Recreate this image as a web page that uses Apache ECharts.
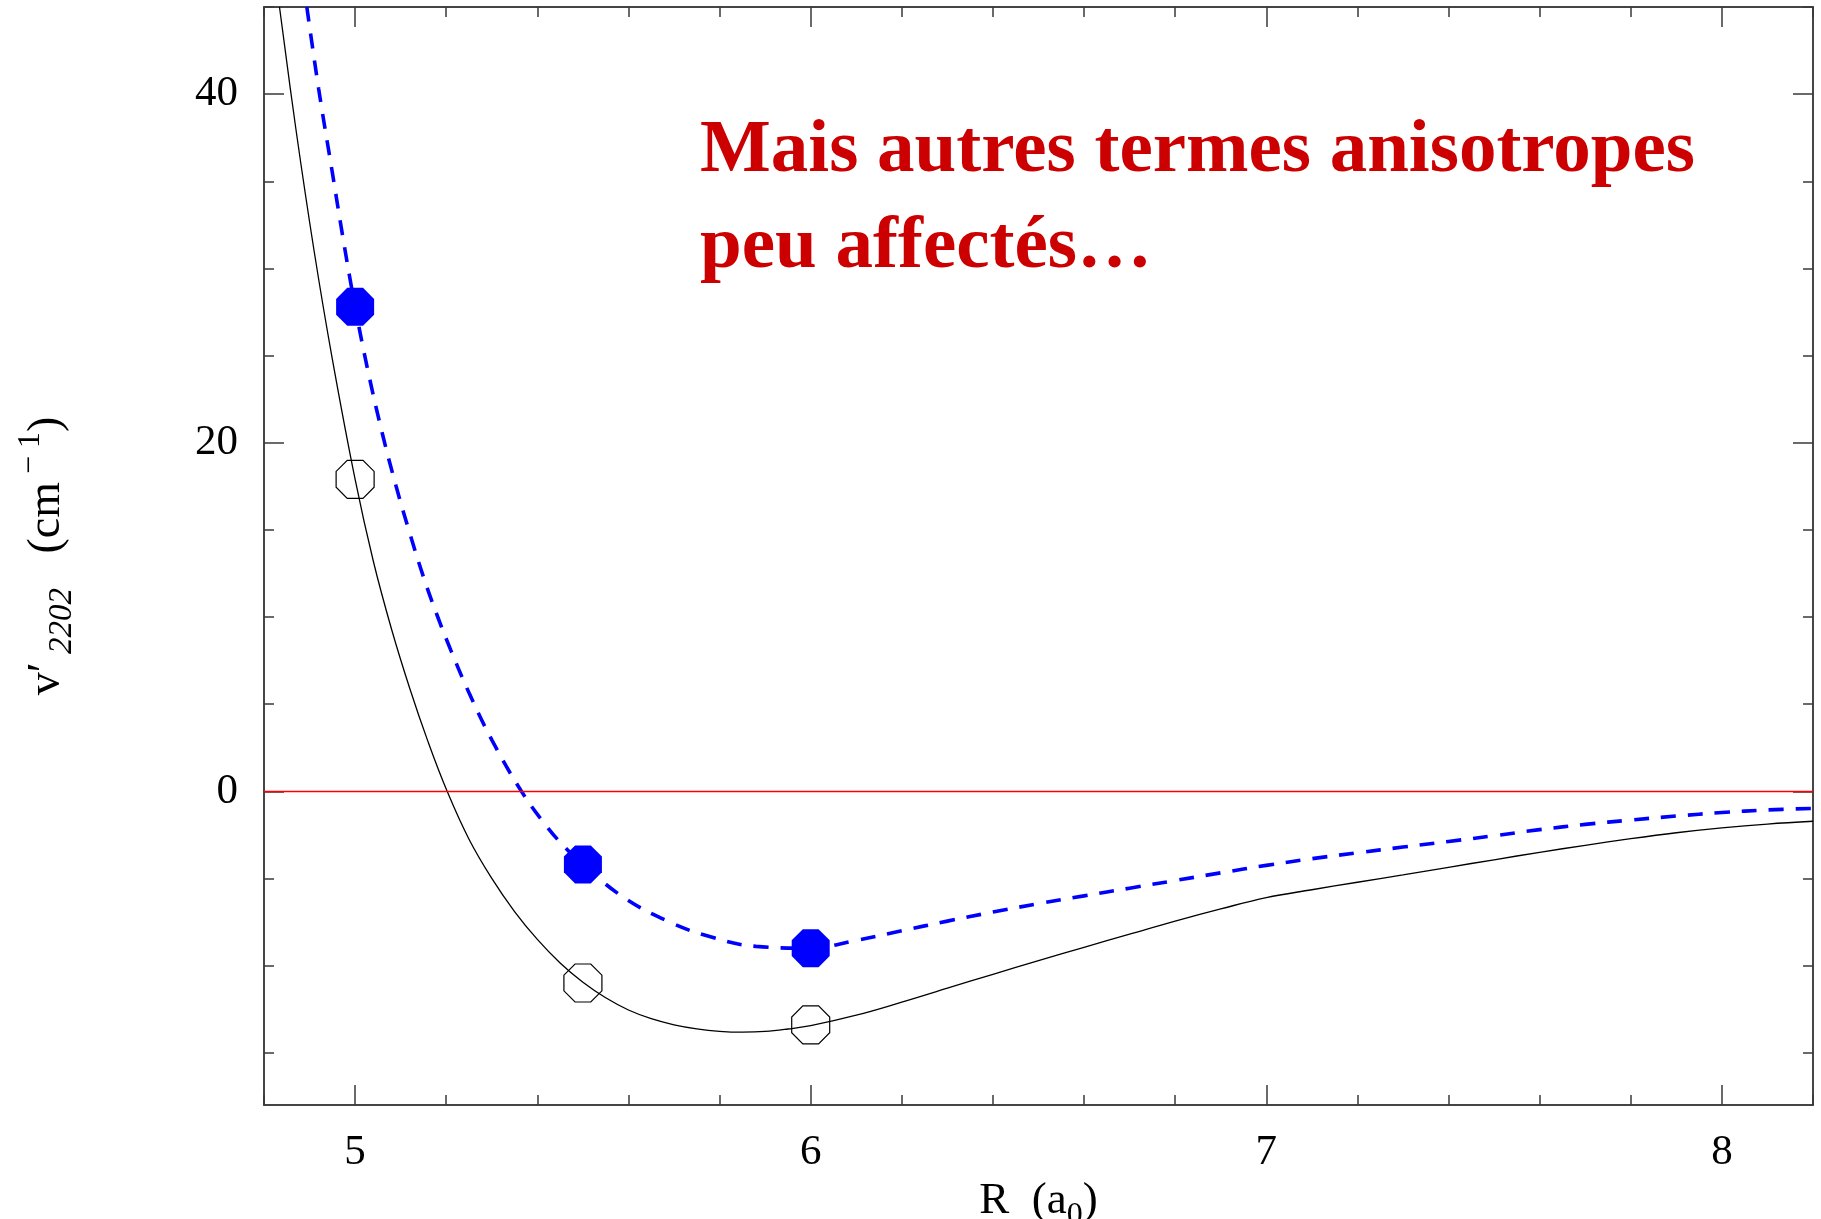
<!DOCTYPE html>
<html>
<head>
<meta charset="utf-8">
<title>V'2202 (R)</title>
<script src="https://cdn.jsdelivr.net/npm/echarts@6/dist/echarts.min.js"></script>
<style>
  html, body { margin: 0; padding: 0; background: #fff; }
  #chart { width: 1821px; height: 1219px; }
</style>
</head>
<body>
<div id="chart"></div>
<script>
// Solid black curve: R (a0) and V'2202 (cm-1)
const blackCurveR = [4.834, 4.87, 4.91, 4.95, 5.0, 5.04, 5.08, 5.12, 5.16, 5.202, 5.25, 5.3, 5.35, 5.4, 5.45, 5.5, 5.55, 5.6, 5.65, 5.7, 5.75, 5.8, 5.85, 5.9, 5.95, 6.0, 6.1, 6.2, 6.3, 6.4, 6.5, 6.6, 6.7, 6.8, 6.9, 7.0, 7.1, 7.2, 7.3, 7.4, 7.5, 7.6, 7.7, 7.8, 7.9, 8.0, 8.1, 8.2];
const blackCurveV = [45, 38.0, 31.0, 24.8, 17.9, 13.2, 9.3, 5.9, 2.85, 0, -2.75, -5.0, -6.9, -8.5, -9.85, -10.96, -11.85, -12.55, -13.05, -13.4, -13.63, -13.77, -13.82, -13.78, -13.64, -13.45, -12.85, -12.1, -11.3, -10.5, -9.72, -8.95, -8.2, -7.45, -6.75, -6.1, -5.65, -5.22, -4.8, -4.36, -3.93, -3.5, -3.1, -2.72, -2.38, -2.1, -1.88, -1.72];

// Dashed blue curve
const blueCurveR = [4.894, 4.92, 4.95, 4.975, 5.0, 5.03, 5.06, 5.09, 5.12, 5.15, 5.18, 5.21, 5.25, 5.3, 5.365, 5.42, 5.46, 5.5, 5.59, 5.69, 5.78, 5.88, 6.0, 6.1, 6.2, 6.3, 6.4, 6.5, 6.6, 6.7, 6.8, 6.9, 7.0, 7.1, 7.2, 7.3, 7.4, 7.5, 7.6, 7.7, 7.8, 7.9, 8.0, 8.1, 8.2];
const blueCurveV = [45, 40.3, 35.5, 31.5, 27.8, 23.9, 20.5, 17.5, 14.8, 12.3, 10.1, 8.1, 5.65, 2.95, 0, -2.0, -3.2, -4.2, -6.1, -7.5, -8.35, -8.9, -9.0, -8.55, -8.0, -7.45, -6.93, -6.45, -6.0, -5.56, -5.12, -4.68, -4.25, -3.87, -3.53, -3.2, -2.88, -2.55, -2.2, -1.9, -1.65, -1.42, -1.22, -1.07, -0.98];

// Computed points
const pointR = [5.0, 5.5, 6.0];
const bluePointV = [27.8, -4.2, -9.0];
const blackPointV = [17.9, -11.0, -13.4];

// Axis ticks
const xMajorTicks = [5, 6, 7, 8];
const xMinorTicks = [4.8, 5.0, 5.2, 5.4, 5.6, 5.8, 6.0, 6.2, 6.4, 6.6, 6.8, 7.0, 7.2, 7.4, 7.6, 7.8, 8.0, 8.2];
const yMajorTicks = [0, 20, 40];
const yMinorTicks = [-15, -10, -5, 0, 5, 10, 15, 20, 25, 30, 35, 40, 45];

const xRange = [4.8, 8.2];
const yRange = [-18, 45];

const annotation = 'Mais autres termes anisotropes\npeu affectés…';

const zip = (a, b) => a.map((v, i) => [v, b[i]]);

const FRAME = '#3a3a3a';
const SERIF = "'Liberation Serif', 'DejaVu Serif', serif";
const OCTAGON = 'path://M29.29,0 L70.71,0 L100,29.29 L100,70.71 L70.71,100 L29.29,100 L0,70.71 L0,29.29 Z';

function axisX(pos, major, labels) {
  return {
    type: 'value', position: pos, min: xRange[0], max: xRange[1],
    axisLine: { show: true, onZero: false, lineStyle: { color: FRAME, width: 1.5 } },
    axisTick: { show: true, inside: true, length: major ? 20 : 10,
      customValues: major ? xMajorTicks : xMinorTicks,
      lineStyle: { color: FRAME, width: 1.5 } },
    axisLabel: labels
      ? { show: true, customValues: xMajorTicks, margin: 26, color: '#000', fontFamily: SERIF, fontSize: 43 }
      : { show: false },
    splitLine: { show: false }
  };
}

function axisY(pos, major, labels) {
  return {
    type: 'value', position: pos, min: yRange[0], max: yRange[1],
    axisLine: { show: true, onZero: false, lineStyle: { color: FRAME, width: 1.5 } },
    axisTick: { show: true, inside: true, length: major ? 20 : 10,
      customValues: major ? yMajorTicks : yMinorTicks,
      lineStyle: { color: FRAME, width: 1.5 } },
    axisLabel: labels
      ? { show: true, customValues: yMajorTicks, margin: 26, color: '#000', fontFamily: SERIF, fontSize: 43 }
      : { show: false },
    splitLine: { show: false }
  };
}

const xBottom = axisX('bottom', true, true);
xBottom.name = '{t|R  (a}{s|0}{t|)}';
xBottom.nameLocation = 'middle';
xBottom.nameGap = 58;
xBottom.nameTextStyle = {
  rich: {
    t: { fontFamily: SERIF, fontSize: 45, color: '#000', lineHeight: 60 },
    s: { fontFamily: SERIF, fontSize: 32, color: '#000', lineHeight: 40, verticalAlign: 'bottom' }
  }
};

const yLeft = axisY('left', true, true);
yLeft.name = "{t|v′}{s| 2202}{t|   (cm}{p| − 1}{t|)}";
yLeft.nameLocation = 'middle';
yLeft.nameGap = 185;
yLeft.nameTextStyle = {
  rich: {
    t: { fontFamily: SERIF, fontSize: 46, color: '#000', lineHeight: 64 },
    s: { fontFamily: SERIF, fontSize: 33, fontStyle: 'italic', color: '#000', lineHeight: 50, verticalAlign: 'bottom' },
    p: { fontFamily: SERIF, fontSize: 32, color: '#000', lineHeight: 20, verticalAlign: 'top' }
  }
};

const chart = echarts.init(document.getElementById('chart'), null, { renderer: 'canvas' });

chart.setOption({
  backgroundColor: '#fff',
  animation: false,
  title: {
    text: annotation,
    left: 700,
    top: 104,
    padding: 0,
    textStyle: {
      fontFamily: SERIF,
      fontWeight: 'bold',
      fontSize: 75,
      lineHeight: 96,
      color: '#cc0000',
      textShadowColor: '#a8a8a8',
      textShadowBlur: 0,
      textShadowOffsetX: 3,
      textShadowOffsetY: 3
    }
  },
  grid: { left: 264, right: 8, top: 7, bottom: 114, containLabel: false, outerBoundsMode: 'none' },
  xAxis: [xBottom, axisX('bottom', false, false), axisX('top', true, false), axisX('top', false, false)],
  yAxis: [yLeft, axisY('left', false, false), axisY('right', true, false), axisY('right', false, false)],
  series: [
    {
      type: 'line',
      data: zip(blackCurveR, blackCurveV),
      xAxisIndex: 0, yAxisIndex: 0,
      showSymbol: false,
      smooth: 0.4,
      clip: true,
      lineStyle: { color: '#000', width: 1.3 },
      markLine: {
        silent: true,
        symbol: 'none',
        label: { show: false },
        lineStyle: { color: '#ff0000', width: 1.3, type: 'solid' },
        data: [{ yAxis: 0 }]
      },
      z: 3
    },
    {
      type: 'line',
      data: zip(blueCurveR, blueCurveV),
      xAxisIndex: 0, yAxisIndex: 0,
      showSymbol: false,
      smooth: 0.4,
      clip: true,
      lineStyle: { color: '#0000ff', width: 3.6, type: [15, 12], cap: 'butt' },
      z: 4
    },
    {
      type: 'scatter',
      data: zip(pointR, blackPointV),
      xAxisIndex: 0, yAxisIndex: 0,
      symbol: OCTAGON,
      symbolSize: 38,
      itemStyle: { color: 'rgba(0,0,0,0)', borderColor: '#000', borderWidth: 1.2, opacity: 1 },
      z: 5
    },
    {
      type: 'scatter',
      data: zip(pointR, bluePointV),
      xAxisIndex: 0, yAxisIndex: 0,
      symbol: OCTAGON,
      symbolSize: 38,
      itemStyle: { color: '#0000ff', opacity: 1 },
      z: 6
    }
  ]
});
</script>
</body>
</html>
